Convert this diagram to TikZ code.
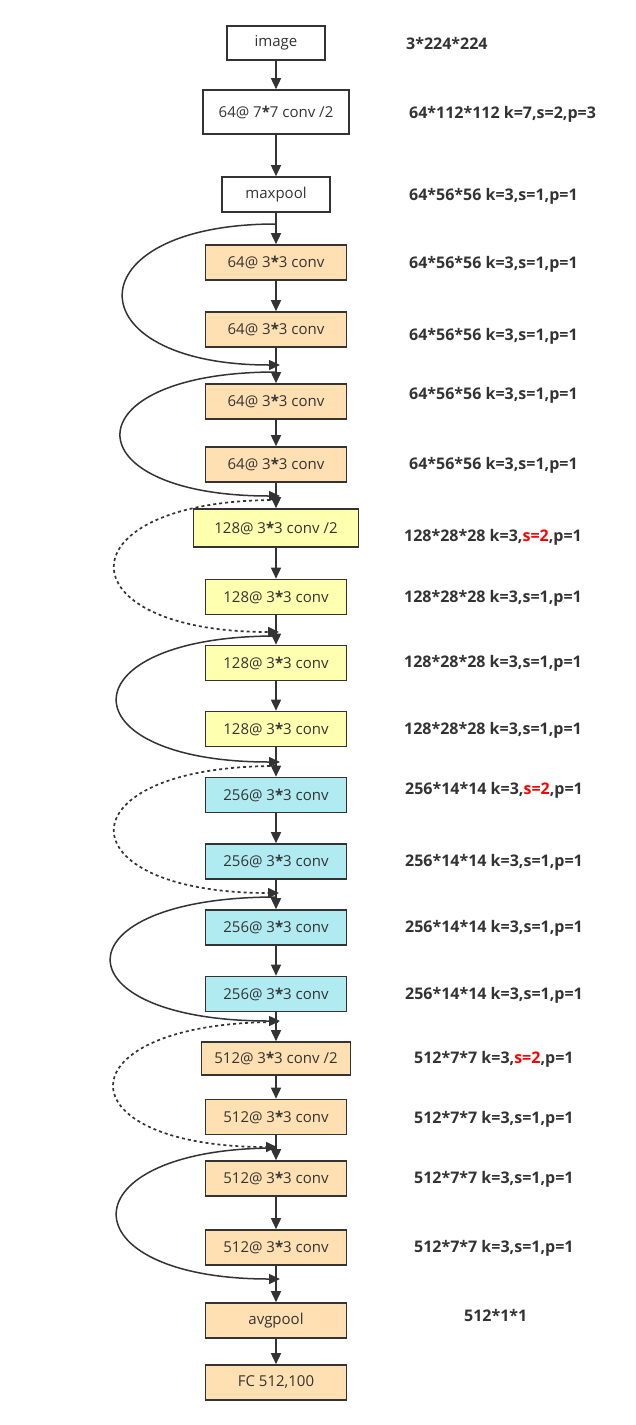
\documentclass[tikz,border=0pt]{standalone}
\usepackage{fontspec}
\usetikzlibrary{arrows.meta}
\newfontfamily\boxfont{Open Sans}
\newfontfamily\labfont{Open Sans}
\definecolor{ink}{HTML}{333333}
\definecolor{peach}{HTML}{FFE0B2}
\definecolor{lemon}{HTML}{FFFFB0}
\definecolor{aqua}{HTML}{B0EBF2}
\definecolor{hot}{HTML}{FF0000}
\begin{document}
\begin{tikzpicture}[x=1pt,y=-1pt,
  blk/.style={draw=ink,line width=1.6pt,inner sep=0pt,minimum width=141pt,minimum height=35pt,
    font=\boxfont\fontsize{15}{17}\selectfont,text=ink},
  wbox/.style={blk,fill=white},
  obox/.style={blk,fill=peach},
  ybox/.style={blk,fill=lemon},
  cbox/.style={blk,fill=aqua},
  lab/.style={anchor=west,inner sep=0pt,font=\labfont\bfseries\fontsize{16}{18}\selectfont,text=ink},
  arr/.style={draw=ink,line width=1.5pt,-{Triangle[length=11pt,width=10pt]}},
  skip/.style={arr},
  dskip/.style={arr,line width=1.7pt,dash pattern=on 3pt off 3pt}
]
\useasboundingbox[fill=white] (0,0) rectangle (636,1425);

% main column
\node[wbox,minimum width=98pt,minimum height=34pt] (img) at (276,43) {image};
\node[wbox,minimum width=146pt,minimum height=44pt] (c7) at (276,112) {64@ 7\textbf{*}7 conv /2};
\node[wbox,minimum width=108pt] (mp) at (276,194.5) {maxpool};
\node[obox] (a1) at (276,262.5) {64@ 3\textbf{*}3 conv};
\node[obox] (a2) at (276,329.5) {64@ 3\textbf{*}3 conv};
\node[obox] (a3) at (276,401.5) {64@ 3\textbf{*}3 conv};
\node[obox] (a4) at (276,464.5) {64@ 3\textbf{*}3 conv};
\node[ybox,minimum width=165pt,minimum height=38pt] (b1) at (276,528) {128@ 3\textbf{*}3 conv /2};
\node[ybox] (b2) at (276,597) {128@ 3\textbf{*}3 conv};
\node[ybox] (b3) at (276,663) {128@ 3\textbf{*}3 conv};
\node[ybox] (b4) at (276,729) {128@ 3\textbf{*}3 conv};
\node[cbox] (d1) at (276,795) {256@ 3\textbf{*}3 conv};
\node[cbox] (d2) at (276,861.5) {256@ 3\textbf{*}3 conv};
\node[cbox] (d3) at (276,927.5) {256@ 3\textbf{*}3 conv};
\node[cbox] (d4) at (276,994) {256@ 3\textbf{*}3 conv};
\node[obox,minimum width=149pt,minimum height=33pt] (e1) at (276,1058.5) {512@ 3\textbf{*}3 conv /2};
\node[obox] (e2) at (276,1117) {512@ 3\textbf{*}3 conv};
\node[obox] (e3) at (276,1178.5) {512@ 3\textbf{*}3 conv};
\node[obox] (e4) at (276,1247.5) {512@ 3\textbf{*}3 conv};
\node[obox] (avg) at (276,1320.5) {avgpool};
\node[obox] (fc) at (276,1382.5) {FC 512,100};

\foreach \u/\v in {img/c7,c7/mp,mp/a1,a1/a2,a2/a3,a3/a4,a4/b1,b1/b2,b2/b3,b3/b4,b4/d1,d1/d2,d2/d3,d3/d4,d4/e1,e1/e2,e2/e3,e3/e4,e4/avg,avg/fc}
  \draw[arr] (\u.south) -- (\v.north);

% skip connections
\coordinate (s1) at (276,224);  \coordinate (t1) at (280,365);
\coordinate (s2) at (276,372);  \coordinate (t2) at (280,496);
\coordinate (s3) at (276,500);  \coordinate (t3) at (279,632);
\coordinate (s4) at (276,636);  \coordinate (t4) at (280,762);
\coordinate (s5) at (276,766);  \coordinate (t5) at (279,893);
\coordinate (s6) at (276,897);  \coordinate (t6) at (280,1021);
\coordinate (s7) at (278,1022); \coordinate (t7) at (277,1147);
\coordinate (s8) at (276,1148); \coordinate (t8) at (280,1279);

\draw[skip]  (s1) .. controls (72,224) and (72,365) .. (t1);
\draw[skip]  (s2) .. controls (69,372) and (69,496) .. (t2);
\draw[dskip] (s3) .. controls (61,500) and (61,632) .. (t3);
\draw[skip]  (s4) .. controls (64,636) and (64,762) .. (t4);
\draw[dskip] (s5) .. controls (61,766) and (61,893) .. (t5);
\draw[skip]  (s6) .. controls (56,897) and (56,1021) .. (t6);
\draw[dskip] (s7) .. controls (60,1022) and (60,1147) .. (t7);
\draw[skip]  (s8) .. controls (64,1148) and (64,1279) .. (t8);

% labels
\node[lab] (l0) at (406,43) {3*224*224};
\node[lab] (l1) at (409,114) {64*112*112 k=7,s=2,p=3};
\node[lab] (l2) at (409,196) {64*56*56 k=3,s=1,p=1};
\node[lab] (l3) at (409,264) {64*56*56 k=3,s=1,p=1};
\node[lab] (l4) at (409,336) {64*56*56 k=3,s=1,p=1};
\node[lab] (l5) at (409,395) {64*56*56 k=3,s=1,p=1};
\node[lab] (l6) at (409,465) {64*56*56 k=3,s=1,p=1};
\node[lab] (l7) at (404,537) {128*28*28 k=3,\textcolor{hot}{s=2},p=1};
\node[lab] (l8) at (404,598) {128*28*28 k=3,s=1,p=1};
\node[lab] (l9) at (404,663) {128*28*28 k=3,s=1,p=1};
\node[lab] (l10) at (404,730) {128*28*28 k=3,s=1,p=1};
\node[lab] (l11) at (405,790) {256*14*14 k=3,\textcolor{hot}{s=2},p=1};
\node[lab] (l12) at (405,862) {256*14*14 k=3,s=1,p=1};
\node[lab] (l13) at (405,928) {256*14*14 k=3,s=1,p=1};
\node[lab] (l14) at (405,995) {256*14*14 k=3,s=1,p=1};
\node[lab] (l15) at (414,1059) {512*7*7 k=3,\textcolor{hot}{s=2},p=1};
\node[lab] (l16) at (414,1119) {512*7*7 k=3,s=1,p=1};
\node[lab] (l17) at (414,1179) {512*7*7 k=3,s=1,p=1};
\node[lab] (l18) at (414,1248) {512*7*7 k=3,s=1,p=1};
\node[lab] (l19) at (464,1315) {512*1*1};
\end{tikzpicture}
\end{document}
